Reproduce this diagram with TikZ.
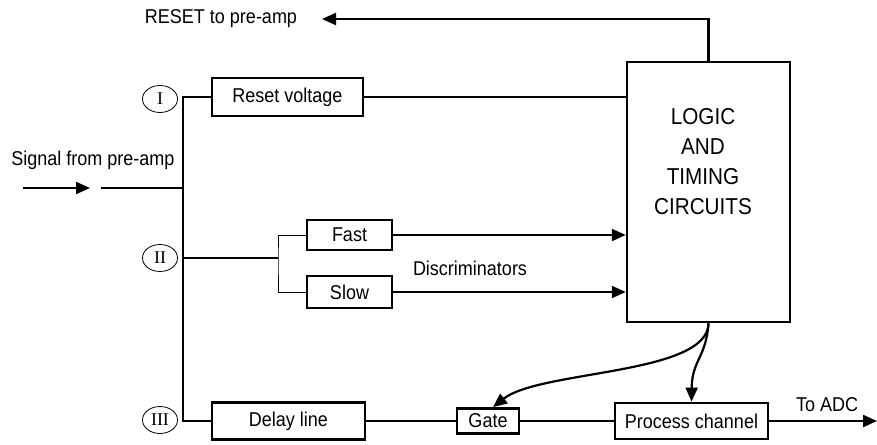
\documentclass[tikz,border=0pt]{standalone}
\usepackage{fontspec}
\setmainfont[FakeStretch=0.9]{Liberation Sans}
\newfontfamily\romanfont{Liberation Serif}
\usetikzlibrary{arrows.meta, positioning, shapes.geometric}

\begin{document}
\begin{tikzpicture}[x=1pt, y=-1pt, font=\fontsize{20}{23}\selectfont,
    block/.style={draw, line width=2.8pt, minimum height=34pt, inner sep=2pt},
    link/.style={line width=2.2pt},
    thin link/.style={line width=1pt},
    tip/.style={-{Triangle[length=14pt, width=12pt]}},
    stage/.style={ellipse, draw, line width=0.8pt, minimum width=35pt, minimum height=27pt,
        inner sep=0pt, font=\romanfont\fontsize{18}{18}\selectfont}]
\useasboundingbox (0,0) rectangle (877,444);

% blocks
\node[block, minimum width=151pt, minimum height=38pt] (reset) at (287.5,97) {Reset voltage};
\node[block, minimum width=85pt, minimum height=30pt] (fast) at (349.5,235) {Fast};
\node[block, minimum width=85pt, minimum height=32pt] (slow) at (349.5,292) {Slow};
\node[block, minimum width=153pt, minimum height=37pt] (delay) at (288.5,421) {Delay line};
\node[block, minimum width=62pt, minimum height=25pt] (gate) at (488,421) {Gate};
\node[block, minimum width=153pt, minimum height=36pt] (process) at (691.5,421) {Process channel};
\node[draw, line width=2.5pt, minimum width=163pt, minimum height=260pt] (logic) at (708.5,192) {};
\node[align=center, font=\fontsize{23}{30}\selectfont] (logictext) at (703,162) {LOGIC\\AND\\TIMING\\CIRCUITS};

% stage marks
\node[stage] (one) at (160,99) {I};
\node[stage] (two) at (160,258) {II};
\node[stage] (three) at (160,420) {III};

% labels
\node (signal) at (93,160) {Signal from pre-amp};
\node (resetlabel) at (221,19) {RESET to pre-amp};
\node (discr) at (470,268) {Discriminators};
\node (adclabel) at (827,405) {To ADC};

% free ends
\coordinate (bustop) at (183,97);
\coordinate (busbot) at (183,421);
\coordinate (busii) at (183,258);
\coordinate (split) at (278,258);
\coordinate (sigin) at (23,188);
\coordinate (sigarr) at (90,188);
\coordinate (sigout) at (101,188);
\coordinate (sigjoin) at (183,188);
\coordinate (resettip) at (322,19);
\coordinate (adc) at (877,421);

% input bus
\draw[link, tip] (sigin) -- (sigarr);
\draw[link] (sigout) -- (sigjoin);
\draw[link] (reset.west) -- (bustop) -- (busbot) -- (delay.west);
\draw[link] (busii) -- (split);
\draw[thin link] (fast.west) -| (split) |- (slow.west);

% into logic
\draw[link] (reset.east) -- (reset.east -| logic.west);
\draw[link, tip] (fast.east) -- (fast.east -| logic.west);
\draw[link, tip] (slow.east) -- (slow.east -| logic.west);
\draw[link, tip] (logic.north) |- (resettip);

% output chain
\draw[link] (delay.east) -- (gate.west);
\draw[thin link, line width=1.4pt] (gate.east) -- (process.west);
\draw[link, tip] (process.east) -- (adc);
\draw[link, tip] (logic.south) .. controls (708,375) and (540,370) .. ([xshift=5pt]gate.north);
\draw[link, tip] (logic.south) .. controls (706,358) and (692,360) .. (process.north);
\end{tikzpicture}
\end{document}
